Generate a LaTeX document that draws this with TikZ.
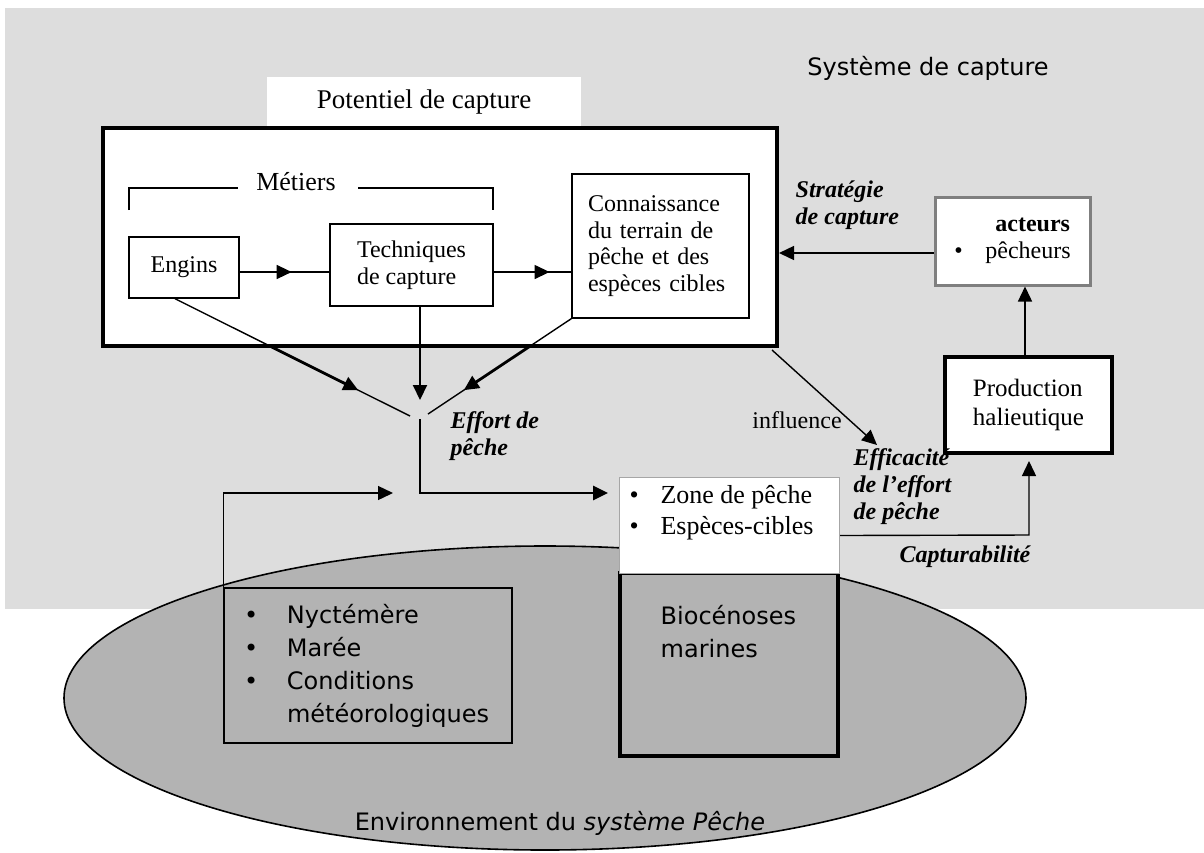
\documentclass[tikz,border=0pt]{standalone}
\usepackage{fontspec}
\setmainfont{Liberation Serif}
\newfontfamily\comicfont{DejaVu Sans}
\usetikzlibrary{calc, positioning}
\usetikzlibrary{arrows.meta}
\usetikzlibrary{decorations.markings}

\definecolor{sysgray}{HTML}{DDDDDD}
\definecolor{envgray}{HTML}{B3B3B3}
\definecolor{actgray}{HTML}{7F7F7F}

\tikzset{
  box/.style={draw, fill=white, line width=0.7pt, inner sep=4pt},
  tip/.style={-{Triangle[length=7.5pt,width=7pt]}},
  midtip/.style={postaction={decorate}, decoration={markings,
      mark=at position #1 with {\arrow{Triangle[length=7.5pt,width=7pt]}}}},
  thickline/.style={line width=1.4pt},
  lbl/.style={font=\fontsize{12}{13.5}\selectfont\bfseries\itshape, align=left, inner sep=0pt, anchor=west},
  comic/.style={font=\fontsize{12}{16.5}\selectfont\comicfont},
}

\begin{document}
\begin{tikzpicture}[x=0.5pt, y=-0.5pt, font=\fontsize{12}{13.5}\selectfont, line width=0.7pt]
\useasboundingbox (0,0) rectangle (1204,852);

\fill[sysgray] (5,8) rectangle (1204,609);
\draw[fill=envgray, line width=0.8pt] (545,698) ellipse [x radius=240.5pt, y radius=76pt];

\node[comic] (systeme) at (928,68) {Système de capture};

\node[fill=white, minimum width=157pt, minimum height=25.5pt, font=\fontsize{13.5}{16}\selectfont] (potentiel) at (424,102.5) {Potentiel de capture};
\node[draw, line width=2pt, minimum width=337pt, minimum height=109pt, fill=white] (potbox) at (440,237) {};

\node[font=\fontsize{13}{15}\selectfont, inner sep=1pt] (metiers) at (296,182) {Métiers};
\draw (129,210) -- (129,188) -- (238,188);
\draw (358,188) -- (493,188) -- (493,210);

\node[box, minimum width=55pt, minimum height=30.5pt] (engins) at (184,267.5) {Engins};
\node[box, minimum width=81.5pt, minimum height=41pt, align=left] (techniques) at (411.5,265) {Techniques\\de capture};
\node[box, minimum width=88.5pt, minimum height=72pt, align=left, text width=72.5pt, inner xsep=8pt, font=\fontsize{12}{13.3}\selectfont] (connaissance) at (660.5,246) {Connaissance\\du terrain de\\pêche et des\\espèces cibles};

\coordinate (metrow) at (0,272);
\draw[midtip=0.58] (engins.east |- metrow) -- (techniques.west |- metrow);
\draw[midtip=0.72] (techniques.east |- metrow) -- (connaissance.west |- metrow);

\node[draw=actgray, line width=1.5pt, fill=white, minimum width=77.5pt, minimum height=44pt, align=left, inner xsep=4pt] (acteurs) at (1012.5,241) {\hspace*{20.5pt}\textbf{acteurs}\\\makebox[15.5pt][l]{\textbullet}pêcheurs};
\node[draw, line width=2pt, fill=white, minimum width=83.5pt, minimum height=48pt, align=left, font=\fontsize{12.5}{14.5}\selectfont] (prod) at (1028.5,405) {Production\\halieutique};

\node[draw, fill=envgray, line width=2pt, minimum width=109pt, minimum height=91.5pt] (bio) at (729,664.5) {};
\node[comic, anchor=north west, align=left, inner sep=0pt, below right=17pt and 21pt of bio.north west] (biotext) {Biocénoses\\marines};
\node[draw=gray!70, line width=0.5pt, fill=white, minimum width=110pt, minimum height=48pt, inner sep=4pt, anchor=north west, font=\fontsize{13}{15.5}\selectfont] (zone) at (619,477) {\parbox[t][40pt][t]{100pt}{\makebox[15.5pt][l]{\textbullet}Zone de pêche\\\makebox[15.5pt][l]{\textbullet}Espèces-cibles}};

\node[draw, line width=0.7pt, minimum width=144pt, minimum height=77.5pt, text width=124pt, inner xsep=10pt, align=left, comic] (env) at (368,665.5) {\makebox[21.5pt][l]{\textbullet}Nyctémère\\\makebox[21.5pt][l]{\textbullet}Marée\\\makebox[21.5pt][l]{\textbullet}Conditions\\\hspace*{21.5pt}météorologiques};

\node[comic] (environnement) at (560,823) {Environnement du \textit{système Pêche}};

\coordinate (engfoot) at ([xshift=-4.5pt]engins.south);
\coordinate (engend) at (410,416);
\coordinate (confoot) at (connaissance.south west);
\coordinate (conend) at (428,414);
\coordinate (techtip) at (420,400);
\coordinate (effort) at (420,419);
\coordinate (bend) at (420,493);
\coordinate (zonetip) at (608,493);
\coordinate (envtip) at (393,493);

\draw (engfoot) -- (engend);
\draw[thickline, tip] ($(engfoot)!0.407!(engend)$) -- ($(engfoot)!0.78!(engend)$);
\draw (confoot) -- (conend);
\draw[thickline, tip] ($(confoot)!0.29!(conend)$) -- ($(confoot)!0.75!(conend)$);
\draw[tip, line width=1pt] (techniques.south -| techtip) -- (techtip);
\draw[thickline, tip] (effort) -- (bend) -- (zonetip);
\draw[tip] (env.north west) -- (env.north west |- envtip) -- (envtip);

\node[lbl] (effortlbl) at (450,436.5) {Effort de\\pêche};

\draw[tip] ([yshift=-6pt]acteurs.west) -- ([yshift=-6pt]acteurs.west -| potbox.east);
\node[lbl] (strategie) at (795,205.5) {Stratégie\\de capture};
\draw[tip] ([xshift=-1.75pt]prod.north) -- ([xshift=-1.75pt]prod.north |- acteurs.south);

\coordinate (inftail) at (772,350);
\coordinate (inftip) at (877,445);
\draw[tip] (inftail) -- (inftip);
\node[inner sep=0pt] (influence) at (797,420) {influence};
\node[lbl] (efficacite) at (853,487) {Efficacité\\de l’effort\\de pêche};

\coordinate (capcorner) at (1029,535);
\coordinate (captip) at (1029,461);
\draw[tip] ([yshift=-5pt]zone.east) -- (capcorner) -- (captip);
\node[lbl, anchor=center] (capturabilite) at (965,557) {Capturabilité};
\end{tikzpicture}
\end{document}
